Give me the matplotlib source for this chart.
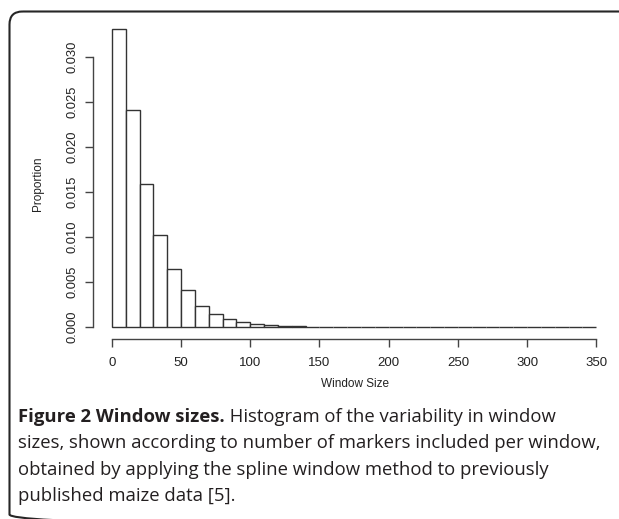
import matplotlib
matplotlib.use("Agg")
import matplotlib.pyplot as plt
from matplotlib.patches import FancyBboxPatch

# Data
bin_width = 10
bin_starts = list(range(0, 350, 10))
proportions = [0.0331, 0.0241, 0.0159, 0.01026, 0.00641, 0.00407, 0.0023,
               0.00148, 0.00085, 0.00059, 0.00030, 0.00020, 0.00011, 0.00007,
               0.00004, 0.00003, 0.00001, 0.00001, 0.000005, 0.000005,
               0.000003, 0.000003, 0.000002, 0.000002, 0.000001, 0.000001,
               0.000001, 0.000001, 0.0, 0.0, 0.0, 0.0, 0.0, 0.0, 0.000001]
yticks = [0.000, 0.005, 0.010, 0.015, 0.020, 0.025, 0.030]
ytick_labels = ["0.000", "0.005", "0.010", "0.015", "0.020", "0.025", "0.030"]
xticks = [0, 50, 100, 150, 200, 250, 300, 350]
xlabel = "Window Size"
ylabel = "Proportion"
caption_bold = "Figure 2 Window sizes."
caption_lines = [
    " Histogram of the variability in window",
    "sizes, shown according to number of markers included per window,",
    "obtained by applying the spline window method to previously",
    "published maize data [5].",
]

W, H = 619, 519
fig = plt.figure(figsize=(W / 100, H / 100), dpi=100)

# background / frame axes in pixel coordinates
bg = fig.add_axes([0, 0, 1, 1])
bg.set_xlim(0, W)
bg.set_ylim(H, 0)
bg.axis("off")
frame = FancyBboxPatch((9.5, 11.5), 720, 516, boxstyle="round,pad=0,rounding_size=13",
                       fill=False, edgecolor="#262626", linewidth=1.5)
bg.add_patch(frame)

# histogram axes
ax_left, ax_right = 92.5, 615.7
ax_top, ax_bot = 17.4, 339.0
ax = fig.add_axes([ax_left / W, (H - ax_bot) / H, (ax_right - ax_left) / W, (ax_bot - ax_top) / H])
ax.patch.set_alpha(0)
ax.bar(bin_starts, proportions, width=bin_width, align="edge", color="white",
       edgecolor="#333333", linewidth=1.0)
ymax = max(proportions)
ax.set_xlim(-0.04 * 350, 350 * 1.04)
ax.set_ylim(-0.04 * ymax, ymax * 1.04)
for s in ["top", "right"]:
    ax.spines[s].set_visible(False)
ax.spines["left"].set_bounds(0, 0.030)
ax.spines["bottom"].set_bounds(0, 350)
for s in ["left", "bottom"]:
    ax.spines[s].set_color("#444444")
    ax.spines[s].set_linewidth(1.0)
ax.set_yticks(yticks)
ax.set_yticklabels(ytick_labels, rotation=90, va="center", fontsize=9.3,
                   family="Liberation Sans")
ax.set_xticks(xticks)
ax.set_xticklabels([str(x) for x in xticks], fontsize=9.5, family="Liberation Sans")
ax.tick_params(axis="both", length=5.5, width=1.0, color="#444444", colors="#222222")
ax.tick_params(axis="y", pad=4.5)
ax.tick_params(axis="x", pad=7.5)

# axis labels in pixel coordinates
bg.text(355, 384, xlabel, ha="center", va="center", fontsize=8.5,
        family="Liberation Sans", color="#222222")
bg.text(38, (ax_top + ax_bot) / 2 + 6, ylabel, ha="center", va="center", rotation=90,
        fontsize=8.5, family="Liberation Sans", color="#222222")

# caption
fs = 13.3
y0 = 417
t = bg.text(18, y0, caption_bold, ha="left", va="center", fontsize=fs,
            family="Open Sans", weight="bold", color="#231f20")
fig.canvas.draw()
bb = t.get_window_extent()
bg.text(18 + bb.width, y0, caption_lines[0], ha="left", va="center", fontsize=fs,
        family="Open Sans", color="#231f20")
for i, line in enumerate(caption_lines[1:]):
    bg.text(18, y0 + 26.3 * (i + 1), line, ha="left", va="center", fontsize=fs,
            family="Open Sans", color="#231f20")

fig.savefig("out.png", dpi=100)
